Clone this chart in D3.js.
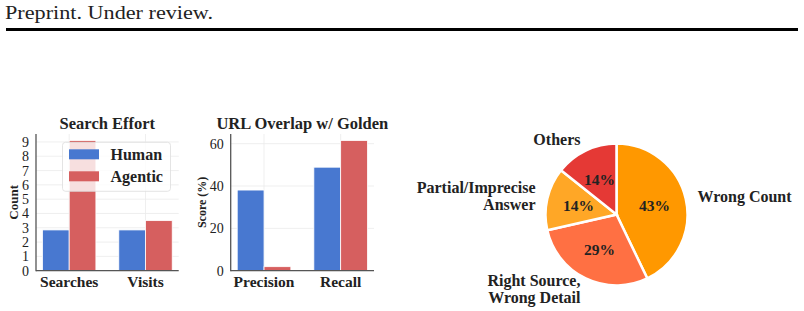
<!DOCTYPE html>
<html>
<head>
<meta charset="utf-8">
<script src="https://cdn.jsdelivr.net/npm/d3@7"></script>
<style>
  body { margin: 0; background: #fff; }
  text { font-family: "Liberation Serif", "DejaVu Serif", serif; fill: #222; }
</style>
</head>
<body>
<svg id="chart" width="804" height="311"></svg>
<script>
const series = ['Human', 'Agentic'];
const seriesColors = ['#4878d0', '#d65f5f'];

const effortCats = ['Searches', 'Visits'];
const effortHuman = [2.85, 2.85];
const effortAgentic = [9.1, 3.5];
const effortTicks = [0, 1, 2, 3, 4, 5, 6, 7, 8, 9];

const overlapCats = ['Precision', 'Recall'];
const overlapHuman = [38.1, 48.9];
const overlapAgentic = [1.9, 61.5];
const overlapTicks = [0, 20, 40, 60];

const errLabels = ['Wrong Count', 'Right Source,\nWrong Detail', 'Partial/Imprecise\nAnswer', 'Others'];
const errCounts = [3, 2, 1, 1];
const errColors = ['#ff9800', '#ff7043', '#ffa726', '#e53935'];

const svg = d3.select('#chart');

// page header
svg.append('text')
  .attr('x', 5).attr('y', 19)
  .attr('textLength', 208).attr('lengthAdjust', 'spacingAndGlyphs')
  .style('font-size', '19px')
  .text('Preprint. Under review.');
svg.append('rect')
  .attr('x', 6).attr('y', 28).attr('width', 792).attr('height', 3)
  .attr('fill', '#000');

function barChart(opts) {
  const { left, right, top, bottom, cats, human, agentic, ticks, title, ylabel, ylabelSize, legend } = opts;
  const g = svg.append('g');

  const x0 = d3.scaleBand().domain(cats).range([left, right])
    .paddingInner(0.3).paddingOuter(0.085);
  const x1 = d3.scaleBand().domain(series).range([0, x0.bandwidth()]);
  const maxV = d3.max([...human, ...agentic]) * 1.05;
  const y = d3.scaleLinear().domain([0, maxV]).range([bottom, top]);

  // grid
  g.append('g').selectAll('line.h').data(ticks).join('line')
    .attr('x1', left).attr('x2', right)
    .attr('y1', (d) => y(d)).attr('y2', (d) => y(d))
    .attr('stroke', '#ebebeb').attr('stroke-width', 0.8);
  g.append('g').selectAll('line.v').data(cats).join('line')
    .attr('x1', (d) => x0(d) + x0.bandwidth() / 2).attr('x2', (d) => x0(d) + x0.bandwidth() / 2)
    .attr('y1', top).attr('y2', bottom)
    .attr('stroke', '#ebebeb').attr('stroke-width', 0.8);

  const rows = cats.map((c, i) => ({ c, vals: [human[i], agentic[i]] }));
  g.append('g').selectAll('g').data(rows).join('g')
    .attr('transform', (d) => `translate(${x0(d.c)},0)`)
    .selectAll('rect')
    .data((d) => d.vals.map((v, j) => ({ v, s: series[j], j })))
    .join('rect')
    .attr('x', (d) => x1(d.s))
    .attr('y', (d) => y(d.v))
    .attr('width', x1.bandwidth())
    .attr('height', (d) => bottom - y(d.v))
    .attr('fill', (d) => seriesColors[d.j])
    .attr('stroke', '#fff').attr('stroke-width', 0.8);

  // axes
  const yAxis = g.append('g').attr('transform', `translate(${left},0)`)
    .call(d3.axisLeft(y).tickValues(ticks).tickSize(0).tickPadding(7));
  yAxis.select('.domain').remove();
  yAxis.selectAll('text').style('font-size', '14px').style('font-family', '"Liberation Serif", serif').attr('fill', '#222');
  const xAxis = g.append('g').attr('transform', `translate(0,${bottom})`)
    .call(d3.axisBottom(x0).tickSize(0).tickPadding(5));
  xAxis.select('.domain').remove();
  xAxis.selectAll('text').style('font-size', '15.5px').style('font-weight', 'bold')
    .style('font-family', '"Liberation Serif", serif').attr('fill', '#222');

  g.append('line').attr('x1', left).attr('x2', left).attr('y1', top).attr('y2', bottom + 0.5)
    .attr('stroke', '#555').attr('stroke-width', 1.3);
  g.append('line').attr('x1', left).attr('x2', right).attr('y1', bottom).attr('y2', bottom)
    .attr('stroke', '#555').attr('stroke-width', 1.3);

  g.append('text')
    .attr('x', (left + right) / 2).attr('y', top - 5)
    .attr('text-anchor', 'middle')
    .style('font-size', '16.5px').style('font-weight', 'bold')
    .text(title);
  g.append('text')
    .attr('transform', `translate(${opts.ylabelX},${(top + bottom) / 2}) rotate(-90)`)
    .attr('text-anchor', 'middle')
    .style('font-size', ylabelSize).style('font-weight', 'bold')
    .text(ylabel);

  if (legend) {
    const lg = g.append('g').attr('transform', `translate(${legend.x},${legend.y})`);
    lg.append('rect').attr('width', 108).attr('height', 49).attr('rx', 3)
      .attr('fill', 'rgba(255,255,255,0.8)').attr('stroke', '#ddd').attr('stroke-width', 0.8);
    series.forEach((s, i) => {
      lg.append('rect').attr('x', 6.5).attr('y', 7 + i * 22).attr('width', 30).attr('height', 10)
        .attr('fill', seriesColors[i]);
      lg.append('text').attr('x', 48).attr('y', 17.5 + i * 22)
        .style('font-size', '16px').style('font-weight', 'bold')
        .text(s);
    });
  }
}

barChart({
  left: 36, right: 178.7, top: 134, bottom: 270.7,
  cats: effortCats, human: effortHuman, agentic: effortAgentic, ticks: effortTicks,
  title: 'Search Effort', ylabel: 'Count', ylabelSize: '13px', ylabelX: 17.5,
  legend: { x: 62.5, y: 142.3 }
});

barChart({
  left: 230.7, right: 374, top: 134, bottom: 270.7,
  cats: overlapCats, human: overlapHuman, agentic: overlapAgentic, ticks: overlapTicks,
  title: 'URL Overlap w/ Golden', ylabel: 'Score (%)', ylabelSize: '12px', ylabelX: 206
});

// pie
const cx = 616.5, cy = 214.5, r = 71;
const pie = d3.pie().sort(null).value((d) => d);
const arcs = pie(errCounts);
const arc = d3.arc().innerRadius(0).outerRadius(r);
const pg = svg.append('g').attr('transform', `translate(${cx},${cy})`);
pg.selectAll('path').data(arcs).join('path')
  .attr('d', arc)
  .attr('fill', (d, i) => errColors[i])
  .attr('stroke', '#fff').attr('stroke-width', 2.5);

const total = d3.sum(errCounts);
const pctArc = d3.arc().innerRadius(r * 0.55).outerRadius(r * 0.55);
pg.selectAll('text.pct').data(arcs).join('text')
  .attr('class', 'pct')
  .attr('transform', (d) => {
    const [px, py] = pctArc.centroid(d);
    return `translate(${px},${py})`;
  })
  .attr('text-anchor', 'middle').attr('dy', '0.35em')
  .style('font-size', '15.5px').style('font-weight', 'bold')
  .style('font-family', '"Liberation Serif", "Times New Roman", serif')
  .text((d) => `${Math.round((d.value / total) * 100)}%`);

const labArc = d3.arc().innerRadius(r * 1.17).outerRadius(r * 1.17);
arcs.forEach((d, i) => {
  const [lx, ly] = labArc.centroid(d);
  const lines = errLabels[i].split('\n');
  const t = pg.append('text')
    .attr('text-anchor', lx > 0 ? 'start' : 'end')
    .style('font-size', '16px').style('font-weight', 'bold')
    .style('font-family', '"Liberation Serif", "Times New Roman", serif');
  const lh = 17;
  lines.forEach((ln, k) => {
    t.append('tspan')
      .attr('x', lx)
      .attr('y', ly + (k - (lines.length - 1) / 2) * lh)
      .attr('dy', '0.35em')
      .text(ln);
  });
});
</script>
</body>
</html>
